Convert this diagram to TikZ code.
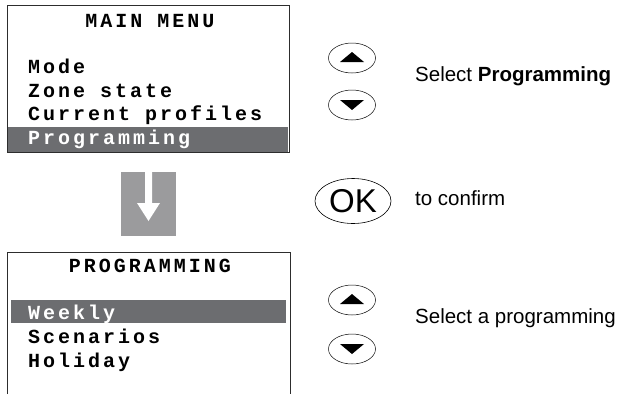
\documentclass[tikz,border=0pt]{standalone}
\usepackage{fontspec}
\setmainfont{Liberation Sans}
\newfontfamily\lcdfont[LetterSpace=15]{Liberation Mono}
\usetikzlibrary{shapes.geometric}

\definecolor{barGray}{RGB}{108,109,112}
\definecolor{arrowGray}{RGB}{155,155,157}
\definecolor{frameGray}{RGB}{45,45,45}

\begin{document}
\begin{tikzpicture}[
    x=1pt, y=-1pt,
    screen/.style={draw=frameGray, line width=0.9pt},
    selbar/.style={fill=barGray},
    lcd/.style={
        font=\lcdfont\bfseries\fontsize{20}{22}\selectfont,
        anchor=base west, inner sep=0pt
    },
    lcdtitle/.style={lcd, anchor=base},
    selected/.style={lcd, text=white},
    button/.style={
        draw, ellipse, line width=0.5pt,
        minimum width=47pt, minimum height=30pt, inner sep=0pt
    },
    okbutton/.style={
        draw, ellipse, line width=0.6pt,
        minimum width=76pt, minimum height=45pt, inner sep=0pt,
        font=\fontsize{33}{33}\selectfont
    },
    hint/.style={font=\fontsize{20.5}{24}\selectfont, anchor=base west, inner sep=0pt}
]
\useasboundingbox (0,0) rectangle (628,394);

% main menu screen
\fill[selbar] (8,127) rectangle (288,152);
\draw[screen] (7,5) rectangle (289,152);
\node[lcdtitle] (maintitle) at (150,27) {MAIN MENU};
\node[lcd] (mode) at (28,73) {Mode};
\node[lcd] (zone) at (28,97) {Zone state};
\node[lcd] (profiles) at (28,120) {Current profiles};
\node[selected] (prog) at (28,144) {Programming};

% transition arrow
\fill[arrowGray] (121,172) rectangle (176,236);
\fill[white] (145,172) -- (152,172) -- (152,203) -- (160,203)
    -- (148.5,221) -- (137,203) -- (145,203) -- cycle;

% programming screen
\fill[selbar] (11,300) rectangle (286,323);
\draw[screen] (7,394) -- (7,252) -- (290,252) -- (290,394);
\node[lcdtitle] (progtitle) at (150,272) {PROGRAMMING};
\node[selected] (weekly) at (28,319) {Weekly};
\node[lcd] (scenarios) at (28,343) {Scenarios};
\node[lcd] (holiday) at (28,367) {Holiday};

% keys
\node[button] (up1) at (352,58) {};
\node[button] (down1) at (352,105) {};
\node[okbutton] (ok) at (353,201) {OK};
\node[button] (up2) at (352,300) {};
\node[button] (down2) at (352,349) {};

\foreach \k in {up1,up2}
    \fill ([shift={(-12,4)}]\k.center) -- ([shift={(12,4)}]\k.center)
        -- ([shift={(0,-6)}]\k.center) -- cycle;
\foreach \k in {down1,down2}
    \fill ([shift={(-12,-5)}]\k.center) -- ([shift={(12,-5)}]\k.center)
        -- ([shift={(0,5)}]\k.center) -- cycle;

% instructions
\node[hint] (selprog) at (415,81) {Select \textbf{Programming}};
\node[hint] (confirm) at (415,205) {to confirm};
\node[hint] (selone) at (415,323) {Select a programming};
\end{tikzpicture}
\end{document}
